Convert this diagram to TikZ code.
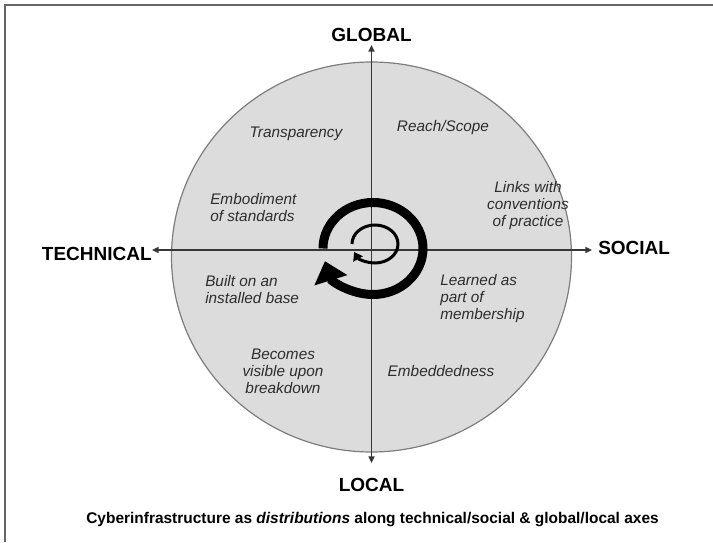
\documentclass[tikz,border=0pt]{standalone}
\usepackage{fontspec}
\setmainfont{Liberation Sans}
\usetikzlibrary{arrows.meta,positioning}
\definecolor{discfill}{RGB}{220,220,220}
\definecolor{discedge}{RGB}{125,125,125}
\definecolor{axisgray}{RGB}{55,55,55}
\definecolor{notegray}{RGB}{45,45,45}
\tikzset{
  axis/.style={line width=1.1pt, draw=axisgray, -{Triangle[length=5pt,width=4.5pt]}},
  axislabel/.style={inner sep=0pt, font=\fontsize{14.25}{16}\selectfont\bfseries},
  note/.style={inner sep=0pt, text=notegray, font=\fontsize{11.5}{12.75}\selectfont\itshape},
}
\begin{document}
\begin{tikzpicture}[x=0.75pt,y=0.75pt]
\useasboundingbox (-371.5,-292) rectangle (341.5,250);
\draw [line width=1.1pt, black!60] (-366.5,-292) -- (-366.5,245) -- (341.5,245);
\draw [fill=discfill, draw=discedge, line width=0.9pt] (0,-7) ellipse [x radius=200, y radius=195];
\coordinate (o) at (0,0);
\coordinate (gtip) at (0,205);
\coordinate (ltip) at (0,-213);
\coordinate (ttip) at (-219.5,0);
\coordinate (stip) at (220.5,0);
\draw [axis] (o) -- (gtip);
\draw [axis] (o) -- (ltip);
\draw [axis] (o) -- (ttip);
\draw [axis] (o) -- (stip);
\node [axislabel, above=2.25pt of gtip] (global) {GLOBAL};
\node [axislabel, below=11.25pt of ltip] (local) {LOCAL};
\node [axislabel, left=0pt of ttip, yshift=-3pt] (technical) {TECHNICAL};
\node [axislabel, right=4.5pt of stip, yshift=1.9pt] (social) {SOCIAL};
% cycle symbol
\coordinate (outer) at (1.5,1.5);
\coordinate (inner) at (3.5,6);
\draw [line width=6.75pt, -{Triangle[length=15pt,width=25pt]}] (outer) ++(180:50 and 46) arc [start angle=180, end angle=-164, x radius=50, y radius=46];
\draw [line width=2.25pt, -{Triangle[length=6pt,width=8pt]}] (inner) ++(180:23 and 19) arc [start angle=180, end angle=-155, x radius=23, y radius=19];
\node [note] (transp) at (-75.5,116) {Transparency};
\node [note, align=left, anchor=west] (embod) at (-161.5,42) {Embodiment\\of standards};
\node [note] (reach) at (71.5,122) {Reach/Scope};
\node [note, align=center] (links) at (156.5,44) {Links with\\conventions\\of practice};
\node [note, align=left, anchor=west] (built) at (-166.5,-40) {Built on an\\installed base};
\node [note, align=left, anchor=west] (learned) at (68.5,-49) {Learned as\\part of\\membership};
\node [note, align=center] (becomes) at (-88.5,-121) {Becomes\\visible upon\\breakdown};
\node [note] (embed) at (69.5,-121) {Embeddedness};
\node [font=\fontsize{11.6}{14}\selectfont\bfseries] (caption) at (1,-270) {Cyberinfrastructure as \textit{distributions} along technical/social \& global/local axes};
\end{tikzpicture}
\end{document}
